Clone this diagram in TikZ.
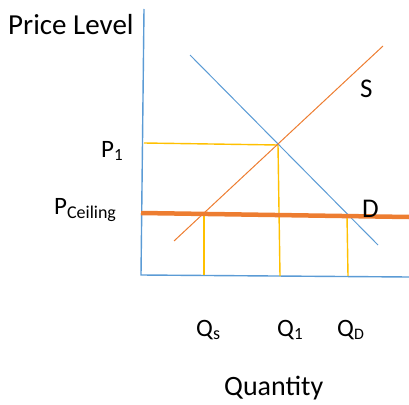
\documentclass[tikz,border=0pt]{standalone}
\usepackage{fontspec}
\setmainfont{Carlito}
\definecolor{axisblue}{RGB}{91,155,213}
\definecolor{supplyorange}{RGB}{237,125,49}
\definecolor{guideyellow}{RGB}{255,192,0}
\newcommand{\fs}[1]{\fontsize{#1}{#1}\selectfont}
\begin{document}
\begin{tikzpicture}[x=1pt,y=-1pt,
  axisline/.style={draw=axisblue,line width=1.4pt},
  demandline/.style={draw=axisblue,line width=1pt},
  supplyline/.style={draw=supplyorange,line width=1pt},
  ceilingline/.style={draw=supplyorange,line width=4.5pt},
  guideline/.style={draw=guideyellow,line width=1.4pt},
  lbl/.style={inner sep=0pt,anchor=base west,text=black}]
\useasboundingbox (0,0) rectangle (409,404);
% axes
\coordinate (ytop) at (144,9);
\coordinate (origin) at (141,275);
\coordinate (xend) at (409,277);
\draw[axisline] (ytop) -- (origin) -- (xend);
% equilibrium guides
\coordinate (eq) at (278,145);
\coordinate (p1left) at (144,143);
\coordinate (q1bot) at (280,276);
\draw[guideline] (p1left) -- (eq);
\draw[guideline] (eq) -- (q1bot);
% ceiling guides
\coordinate (qstop) at (204,215);
\coordinate (qsbot) at (204,275);
\coordinate (qdtop) at (347,216);
\coordinate (qdbot) at (348,276);
\draw[guideline] (qstop) -- (qsbot);
\draw[guideline] (qdtop) -- (qdbot);
% demand
\coordinate (dtop) at (190,55);
\coordinate (dbot) at (378,245);
\draw[demandline] (dtop) -- (dbot);
% supply
\coordinate (sbot) at (174,241);
\coordinate (stop) at (383,46);
\draw[supplyline] (sbot) -- (stop);
% price ceiling
\coordinate (cleft) at (141,213);
\coordinate (cright) at (409,217);
\draw[ceilingline] (cleft) -- (cright);
% labels
\node[lbl] (ylab) at (8,35) {\fs{29}Price Level};
\node[lbl] (slab) at (360,97) {\fs{27}S};
\node[lbl] (dlab) at (362,217) {\fs{27}D};
\node[lbl] (p1lab) at (101,157) {\fs{25}P\raisebox{-3pt}{\fs{17}1}};
\node[lbl] (pclab) at (54,214) {\fs{25}P\raisebox{-4pt}{\fs{18}Ceiling}};
\node[lbl] (qslab) at (196,336) {\fs{25}Q\raisebox{-3pt}{\fs{18}s}};
\node[lbl] (q1lab) at (277,336) {\fs{25}Q\raisebox{-3pt}{\fs{17}1}};
\node[lbl] (qdlab) at (337,336) {\fs{25}Q\raisebox{-3pt}{\fs{16}D}};
\node[lbl] (xlab) at (224,395) {\fs{28}Quantity};
\end{tikzpicture}
\end{document}
